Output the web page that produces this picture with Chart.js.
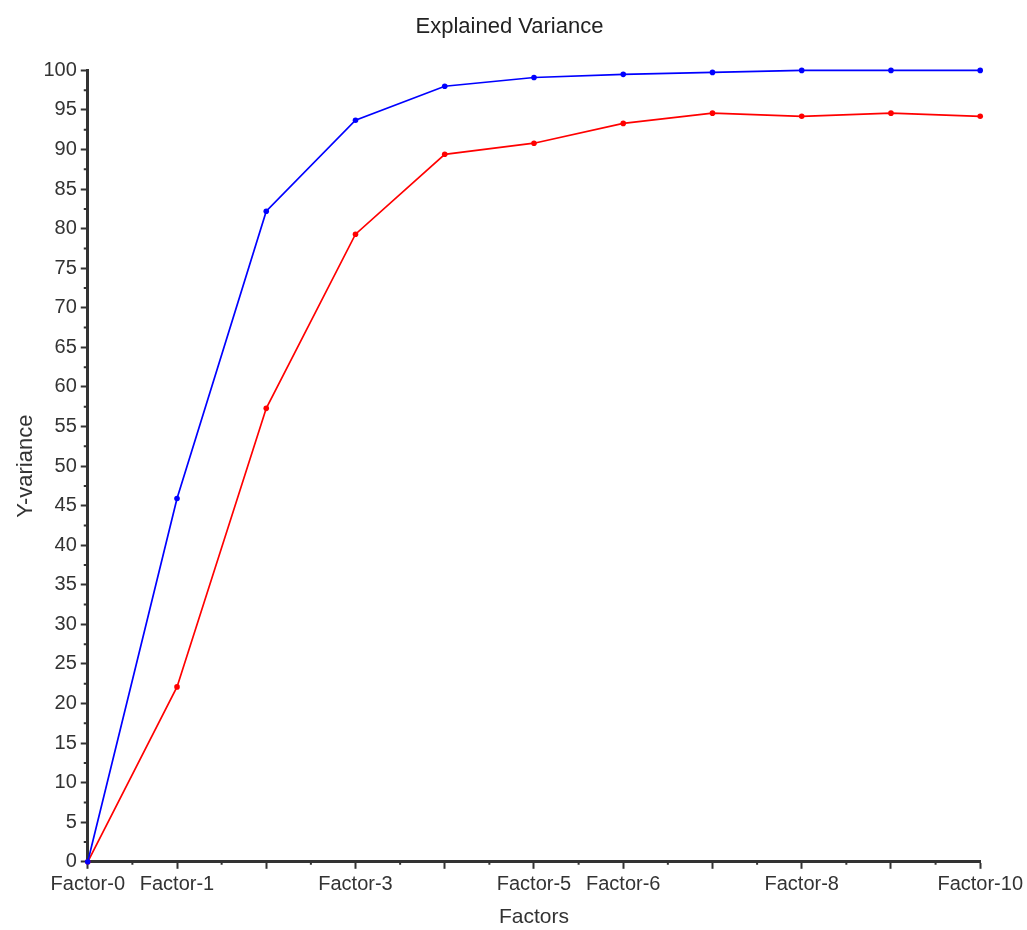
<!DOCTYPE html>
<html>
<head>
<meta charset="utf-8">
<script src="https://cdn.jsdelivr.net/npm/chart.js@4/dist/chart.umd.min.js"></script>
<style>
  html, body { margin: 0; padding: 0; background: #fff; }
  #wrap { width: 1027px; height: 930px; }
</style>
</head>
<body>
<div id="wrap"><canvas id="varianceChart"></canvas></div>
<script>
// Categories and series
const factors = ['Factor-0', 'Factor-1', 'Factor-2', 'Factor-3', 'Factor-4', 'Factor-5',
                 'Factor-6', 'Factor-7', 'Factor-8', 'Factor-9', 'Factor-10'];
const shownLabels = ['Factor-0', 'Factor-1', 'Factor-3', 'Factor-5', 'Factor-6', 'Factor-8', 'Factor-10'];
const blueSeries = [0, 45.9, 82.2, 93.7, 98.0, 99.1, 99.5, 99.75, 100, 100, 100];
const redSeries = [0, 22.1, 57.3, 79.3, 89.4, 90.8, 93.3, 94.6, 94.2, 94.6, 94.2];

const axisColor = '#333';
const textColor = '#333';
const fontFamily = '"Liberation Sans", Arial, sans-serif';

// small minor ticks between the major ones
const minorTicks = {
    id: 'minorTicks',
    afterDraw(chart) {
        const ctx = chart.ctx;
        const x = chart.scales.x, y = chart.scales.y;
        ctx.save();
        ctx.strokeStyle = axisColor;
        ctx.lineWidth = 2;
        ctx.beginPath();
        for (let v = 2.5; v < 100; v += 5) {
            const py = y.getPixelForValue(v);
            ctx.moveTo(x.left - 4, py);
            ctx.lineTo(x.left, py);
        }
        for (let i = 0; i < factors.length - 1; i++) {
            const px = x.getPixelForValue(i + 0.5);
            ctx.moveTo(px, y.bottom);
            ctx.lineTo(px, y.bottom + 3);
        }
        ctx.stroke();
        ctx.restore();
    }
};

new Chart(document.getElementById('varianceChart'), {
    type: 'line',
    data: {
        labels: factors,
        datasets: [
            {
                label: 'Calibration',
                data: blueSeries,
                borderColor: '#0000ff',
                backgroundColor: '#0000ff',
                borderWidth: 1.7,
                pointRadius: 2.8,
                pointBorderWidth: 0,
                clip: false,
                tension: 0
            },
            {
                label: 'Validation',
                data: redSeries,
                borderColor: '#ff0000',
                backgroundColor: '#ff0000',
                borderWidth: 1.7,
                pointRadius: 2.8,
                pointBorderWidth: 0,
                clip: false,
                tension: 0
            }
        ]
    },
    options: {
        responsive: true,
        maintainAspectRatio: false,
        animation: false,
        layout: { padding: { top: 4, right: 8, bottom: 0, left: 0 } },
        plugins: {
            legend: { display: false },
            tooltip: { enabled: false },
            title: {
                display: true,
                text: 'Explained Variance',
                color: '#222',
                font: { family: fontFamily, size: 22, weight: 'normal' },
                padding: { top: 10, bottom: 30 }
            }
        },
        scales: {
            x: {
                offset: false,
                border: { color: axisColor, width: 3 },
                grid: { drawOnChartArea: false, tickLength: 7, tickColor: axisColor, tickWidth: 2 },
                ticks: {
                    autoSkip: false,
                    maxRotation: 0,
                    color: textColor,
                    padding: 4,
                    font: { family: fontFamily, size: 20 },
                    callback: function (value) {
                        const label = this.getLabelForValue(value);
                        return shownLabels.includes(label) ? label : '';
                    }
                },
                title: {
                    display: true,
                    text: 'Factors',
                    color: textColor,
                    font: { family: fontFamily, size: 21 },
                    padding: { top: 4, bottom: 0 }
                }
            },
            y: {
                min: 0,
                max: 100,
                border: { color: axisColor, width: 3 },
                grid: { drawOnChartArea: false, tickLength: 7, tickColor: axisColor, tickWidth: 2 },
                ticks: {
                    stepSize: 5,
                    color: textColor,
                    padding: 4,
                    font: { family: fontFamily, size: 20 }
                },
                title: {
                    display: true,
                    text: 'Y-variance',
                    color: textColor,
                    font: { family: fontFamily, size: 22 },
                    padding: { top: 13, bottom: 0 }
                }
            }
        }
    },
    plugins: [minorTicks]
});
</script>
</body>
</html>
